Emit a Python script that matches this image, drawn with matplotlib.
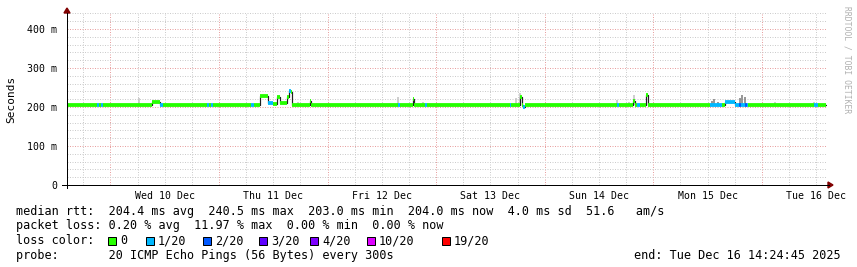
import matplotlib
matplotlib.use("Agg")
import matplotlib.pyplot as plt
import numpy as np
from matplotlib.patches import Rectangle, Polygon

# ---------------- data ----------------
# hours since graph start (Tue Dec 9 14:24:45 2025); graph spans 7 days
seg_start_h = [0.0, 6.63, 7.07, 7.51, 7.96, 18.78, 20.55, 21.22, 30.94, 31.38,
               31.82, 32.27, 40.66, 41.33, 42.65, 44.42, 45.52, 46.41, 47.07, 48.62,
               49.06, 49.50, 49.72, 53.70, 53.92, 73.15, 73.59, 76.46, 76.68, 79.11,
               79.56, 97.90, 98.12, 100.10, 100.55, 100.77, 101.21, 121.55, 121.99, 125.08,
               125.53, 125.97, 126.63, 127.96, 128.40, 142.10, 144.75, 145.41, 147.62, 148.50,
               148.96, 149.83, 150.28, 150.49, 165.08, 165.97]
seg_end_h = 167.7
seg_median_ms = [204, 204, 204, 204, 204, 213, 204, 204, 204, 204,
                 204, 204, 206, 205, 228, 209, 208, 226, 209, 225,
                 241, 238, 205, 216, 205, 205, 205, 220, 205, 205,
                 205, 205, 205, 225, 205, 201, 205, 205, 205, 216,
                 205, 205, 205, 231, 205, 205, 205, 212, 206, 206,
                 206, 206, 206, 205, 205, 205]
seg_loss = [0, 1, 0, 1, 0, 0, 1, 0, 1, 0,
            1, 0, 1, 0, 0, 1, 0, 0, 0, 0,
            1, 0, 0, 0, 0, 1, 0, 0, 0, 1,
            0, 1, 0, 0, 0, 1, 0, 1, 0, 0,
            0, 1, 0, 0, 0, 1, 0, 1, 1, 2,
            1, 2, 1, 0, 1, 0]

smoke_h = [15.91, 51.05, 73.15, 78.67, 99.23, 100.10, 121.55, 124.20, 125.30,
           142.50, 143.10, 143.80, 148.70, 149.20, 149.80, 156.50, 165.10]
smoke_top_ms = [223, 212, 225, 212, 222, 236, 218, 213, 232,
                216, 220, 214, 222, 231, 225, 212, 214]
smoke_dark = [0, 0, 0, 0, 0, 0, 0, 0, 0,
              1, 1, 1, 1, 1, 1, 0, 0]

day_label_h = [21.5875, 45.5875, 69.5875, 93.5875, 117.5875, 141.5875, 165.5875]
day_labels = ["Wed 10 Dec", "Thu 11 Dec", "Fri 12 Dec", "Sat 13 Dec",
              "Sun 14 Dec", "Mon 15 Dec", "Tue 16 Dec"]
y_ticks_ms = [0, 100, 200, 300, 400]
y_tick_labels = ["0", "100 m", "200 m", "300 m", "400 m"]

loss_levels = [0, 1, 2, 3, 4, 10, 19]
loss_names = ["0", "1/20", "2/20", "3/20", "4/20", "10/20", "19/20"]
loss_colors = ["#26ff00", "#00b8ff", "#0059ff", "#5e00ff", "#7e00ff", "#dd00ff", "#ff0000"]

stats_line1 = "median rtt:  204.4 ms avg  240.5 ms max  203.0 ms min  204.0 ms now  4.0 ms sd  51.6   am/s"
stats_line2 = "packet loss: 0.20 % avg  11.97 % max  0.00 % min  0.00 % now"
probe_line = "probe:       20 ICMP Echo Pings (56 Bytes) every 300s"
end_line = "end: Tue Dec 16 14:24:45 2025"

# ---------------- figure ----------------
W, H = 857, 267
DPI = 100
fig = plt.figure(figsize=(W / DPI, H / DPI), dpi=DPI, facecolor="white")
MONO = "DejaVu Sans Mono"
PX = 72.0 / DPI  # points per pixel

x0, x1, yb, yt = 67, 827, 185, 13
ax = fig.add_axes([x0 / W, 1 - yb / H, (x1 - x0) / W, (yb - yt) / H])
ax.set_facecolor("white")
ax.set_xlim(0, 168)
ax.set_ylim(0, 441)

# grid
start_offset = 9.5875  # hours from start to midnight Dec 10
minor_x = [start_offset - 6 + 6 * i for i in range(0, 30)]
for mx in minor_x:
    if 0 < mx < 168:
        is_major = abs(((mx - start_offset) / 24) - round((mx - start_offset) / 24)) < 1e-6
        ax.axvline(mx, color="#e8a0a0" if is_major else "#cccccc",
                   lw=PX, linestyle=(0, (1, 1.5)), zorder=0.5)
for my in range(20, 441, 20):
    ax.axhline(my, color="#e8a0a0" if my % 100 == 0 else "#cccccc",
               lw=PX, linestyle=(0, (1, 1.5)), zorder=0.5)

# smoke
for h, top, dark in zip(smoke_h, smoke_top_ms, smoke_dark):
    ax.vlines(h, 204, top, colors="#808080" if dark else "#c4c4c4", lw=1.6 * PX, zorder=1)

# median black step line
xs = list(seg_start_h) + [seg_end_h]
ys = list(seg_median_ms) + [seg_median_ms[-1]]
ax.step(xs, ys, where="post", color="#202020", lw=1.2 * PX, zorder=2)

# coloured median (by loss)
col_map = dict(zip(loss_levels, loss_colors))
for i in range(len(seg_start_h)):
    xe = seg_start_h[i + 1] if i + 1 < len(seg_start_h) else seg_end_h
    ax.hlines(seg_median_ms[i], seg_start_h[i], xe, colors=col_map[seg_loss[i]],
              lw=3.8 * PX, zorder=3)

# axes styling
for s in ["top", "right", "left", "bottom"]:
    ax.spines[s].set_visible(False)
ax.set_xticks(day_label_h)
ax.set_xticklabels(day_labels, fontfamily=MONO, fontsize=7.1)
ax.tick_params(axis="x", length=0, pad=4)
ax.set_yticks(y_ticks_ms)
ax.set_yticklabels(y_tick_labels, fontfamily=MONO, fontsize=7.1)
ax.tick_params(axis="y", length=0, pad=7)

# arrows / axis lines
def fx(px):
    return px / W
def fy(py):
    return 1 - py / H
fig.patches.append(Polygon([[fx(64), fy(13)], [fx(70), fy(13)], [fx(67), fy(8)]],
                           closed=True, color="#800000", transform=fig.transFigure))
fig.patches.append(Polygon([[fx(828), fy(182)], [fx(828), fy(188)], [fx(833), fy(185)]],
                           closed=True, color="#800000", transform=fig.transFigure))
fig.lines.append(plt.Line2D([fx(67), fx(67)], [fy(188), fy(13)], color="black", lw=PX,
                            transform=fig.transFigure))
fig.lines.append(plt.Line2D([fx(62), fx(829)], [fy(185), fy(185)], color="black", lw=PX,
                            transform=fig.transFigure))

# y label
fig.text(fx(11), fy(99), "Seconds", rotation=90, ha="center", va="center",
         fontfamily=MONO, fontsize=8)

# watermark
fig.text(fx(847), fy(60), "RRDTOOL / TOBI OETIKER", rotation=270, ha="center", va="center",
         fontfamily=MONO, fontsize=5.8, color="#b0b0b0")

# legend text
LF = 8.5
fig.text(fx(16), fy(211), stats_line1, ha="left", va="center", fontfamily=MONO, fontsize=LF)
fig.text(fx(16), fy(225.7), stats_line2, ha="left", va="center", fontfamily=MONO, fontsize=LF)
fig.text(fx(16), fy(240.5), "loss color:", ha="left", va="center", fontfamily=MONO, fontsize=LF)
box_px = [108, 146, 203, 259, 310, 367, 442]
for bx, name, c in zip(box_px, loss_names, loss_colors):
    fig.patches.append(Rectangle((fx(bx), fy(245)), 8 / W, 8 / H, facecolor=c,
                                 edgecolor="black", lw=PX, transform=fig.transFigure))
    fig.text(fx(bx + 12), fy(240.5), name, ha="left", va="center", fontfamily=MONO, fontsize=LF)
fig.text(fx(16), fy(255.3), probe_line, ha="left", va="center", fontfamily=MONO, fontsize=LF)
fig.text(fx(841), fy(255.3), end_line, ha="right", va="center", fontfamily=MONO, fontsize=LF)

fig.savefig("out.png", dpi=DPI, facecolor="white")
